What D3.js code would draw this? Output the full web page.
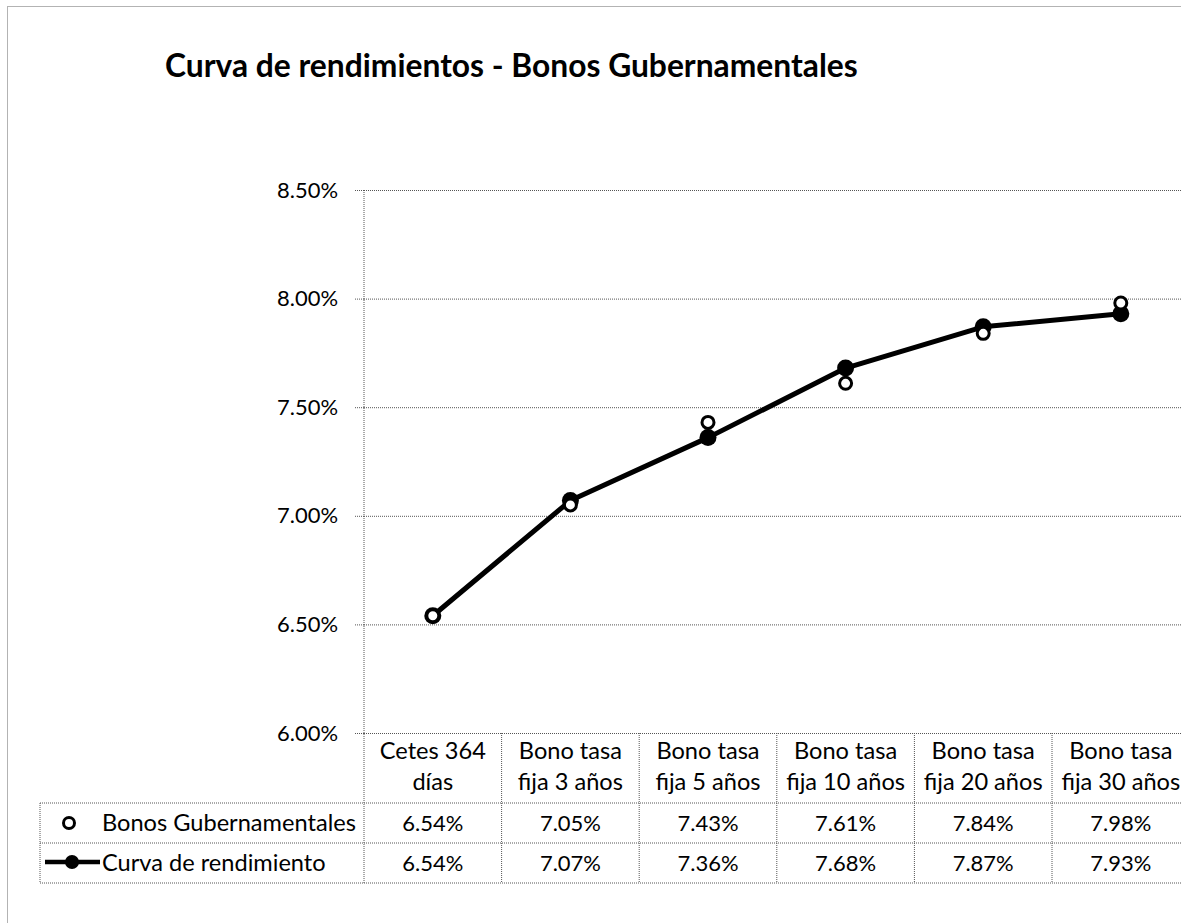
<!DOCTYPE html>
<html>
<head>
<meta charset="utf-8">
<script src="https://cdn.jsdelivr.net/npm/d3@7/dist/d3.min.js"></script>
<style>
  html, body { margin: 0; padding: 0; background: #fff; }
  svg { display: block; }
</style>
</head>
<body>
<svg id="chart" width="1181" height="923"></svg>
<script>
// ---------- DATA ----------
const title = "Curva de rendimientos - Bonos Gubernamentales";
const categories = ["Cetes 364 días", "Bono tasa fija 3 años", "Bono tasa fija 5 años",
                    "Bono tasa fija 10 años", "Bono tasa fija 20 años", "Bono tasa fija 30 años"];
const categoryLines = [["Cetes 364", "días"], ["Bono tasa", "fija 3 años"], ["Bono tasa", "fija 5 años"],
                       ["Bono tasa", "fija 10 años"], ["Bono tasa", "fija 20 años"], ["Bono tasa", "fija 30 años"]];
const seriesNames = ["Bonos Gubernamentales", "Curva de rendimiento"];
const bonosValues = [6.54, 7.05, 7.43, 7.61, 7.84, 7.98];
const curvaValues = [6.54, 7.07, 7.36, 7.68, 7.87, 7.93];
const yTicks = [6.00, 6.50, 7.00, 7.50, 8.00, 8.50];
const yDomain = [6.00, 8.50];

// ---------- LAYOUT ----------
const FONT = "Lato, 'Open Sans', sans-serif";
const plotLeft = 364, bandW = 137.6;
const plotTop = 190, plotBottom = 733;
const plotRight = plotLeft + bandW * categories.length;
const row1Top = 803, row2Top = 843, tableBottom = 883, tableLeft = 40;
const gridColor = "#555";

const svg = d3.select("#chart");

// measure helper: returns font size so text fits target width
function fitSize(text, weight, target) {
  const t = svg.append("text").attr("font-family", FONT).attr("font-weight", weight)
    .attr("font-size", 100).text(text);
  const w = t.node().getComputedTextLength();
  t.remove();
  return 100 * target / w;
}
const titleSize = fitSize(title, "bold", 693);
const textSize = fitSize("Bonos Gubernamentales", "normal", 254);
const numSize = fitSize("8.50%", "normal", 61);

const fmt = d => d.toFixed(2) + "%";

// outer dotted border
svg.append("rect")
  .attr("x", 7.5).attr("y", 6.5).attr("width", 1200).attr("height", 940)
  .attr("fill", "none").attr("stroke", "#666").attr("stroke-width", 1)
  .attr("stroke-dasharray", "1,1");

// title
svg.append("text")
  .attr("x", 165).attr("y", 77)
  .attr("font-family", FONT).attr("font-weight", "bold").attr("font-size", titleSize)
  .attr("fill", "#000").text(title);

// scales
const x = d3.scaleBand().domain(d3.range(categories.length)).range([plotLeft, plotRight]);
const y = d3.scaleLinear().domain(yDomain).range([plotBottom, plotTop]);

// gridlines
const grid = svg.append("g").attr("transform", `translate(${plotLeft},0)`)
  .call(d3.axisLeft(y).tickValues(yTicks).tickSize(-(plotRight - plotLeft)).tickFormat(""));
grid.select(".domain").remove();
grid.selectAll("line").attr("stroke", gridColor).attr("stroke-dasharray", "1,1");

// y axis
const yAxis = svg.append("g").attr("transform", `translate(${plotLeft},0)`)
  .call(d3.axisLeft(y).tickValues(yTicks).tickSize(9).tickPadding(17).tickFormat(fmt));
yAxis.select(".domain").remove();
yAxis.selectAll("line").attr("stroke", gridColor).attr("stroke-dasharray", "1,1");
yAxis.selectAll("text").attr("font-family", FONT).attr("font-size", numSize).attr("fill", "#000");

// axis vertical line (continues through table)
svg.append("line")
  .attr("x1", plotLeft).attr("x2", plotLeft).attr("y1", plotTop).attr("y2", tableBottom)
  .attr("stroke", gridColor).attr("stroke-dasharray", "1,1");

// table: vertical band dividers
svg.append("g").selectAll("line").data(d3.range(1, categories.length)).join("line")
  .attr("x1", i => x(i)).attr("x2", i => x(i))
  .attr("y1", plotBottom).attr("y2", tableBottom)
  .attr("stroke", gridColor).attr("stroke-dasharray", "1,1");
// table left border
svg.append("line")
  .attr("x1", tableLeft).attr("x2", tableLeft).attr("y1", row1Top).attr("y2", tableBottom)
  .attr("stroke", gridColor).attr("stroke-dasharray", "1,1");
// table horizontal lines
svg.append("g").selectAll("line").data([row1Top, row2Top, tableBottom]).join("line")
  .attr("x1", tableLeft).attr("x2", plotRight)
  .attr("y1", d => d).attr("y2", d => d)
  .attr("stroke", gridColor).attr("stroke-dasharray", "1,1");

// category labels
const catG = svg.append("g");
categoryLines.forEach((lines, i) => {
  const t = catG.append("text")
    .attr("x", x(i) + x.bandwidth() / 2).attr("text-anchor", "middle")
    .attr("font-family", FONT).attr("font-size", textSize).attr("fill", "#000");
  lines.forEach((ln, j) => {
    t.append("tspan").attr("x", x(i) + x.bandwidth() / 2).attr("y", 759 + j * 31).text(ln);
  });
});

// table values
const rows = [bonosValues, curvaValues];
const rowBase = [831, 871];
rows.forEach((vals, r) => {
  svg.append("g").selectAll("text").data(vals).join("text")
    .attr("x", (d, i) => x(i) + x.bandwidth() / 2)
    .attr("y", rowBase[r])
    .attr("text-anchor", "middle")
    .attr("font-family", FONT).attr("font-size", numSize).attr("fill", "#000")
    .text(fmt);
});

// legend keys in table
svg.append("circle").attr("cx", 69).attr("cy", 823).attr("r", 5.5)
  .attr("fill", "#fff").attr("stroke", "#000").attr("stroke-width", 3);
svg.append("line").attr("x1", 45).attr("x2", 100).attr("y1", 862).attr("y2", 862)
  .attr("stroke", "#000").attr("stroke-width", 4.5);
svg.append("circle").attr("cx", 72).attr("cy", 862).attr("r", 7).attr("fill", "#000");
svg.append("text").attr("x", 102).attr("y", rowBase[0])
  .attr("font-family", FONT).attr("font-size", textSize).attr("fill", "#000").text(seriesNames[0]);
svg.append("text").attr("x", 102).attr("y", rowBase[1])
  .attr("font-family", FONT).attr("font-size", textSize).attr("fill", "#000").text(seriesNames[1]);

// curve line
const line = d3.line().x((d, i) => x(i) + x.bandwidth() / 2).y(d => y(d));
svg.append("path").datum(curvaValues)
  .attr("d", line).attr("fill", "none").attr("stroke", "#000")
  .attr("stroke-width", 5).attr("stroke-linejoin", "round");
svg.append("g").selectAll("circle").data(curvaValues).join("circle")
  .attr("cx", (d, i) => x(i) + x.bandwidth() / 2).attr("cy", d => y(d))
  .attr("r", 8.5).attr("fill", "#000");

// bonos markers (open circles)
svg.append("g").selectAll("circle").data(bonosValues).join("circle")
  .attr("cx", (d, i) => x(i) + x.bandwidth() / 2).attr("cy", d => y(d))
  .attr("r", 6).attr("fill", "#fff").attr("stroke", "#000").attr("stroke-width", 3);
</script>
</body>
</html>
